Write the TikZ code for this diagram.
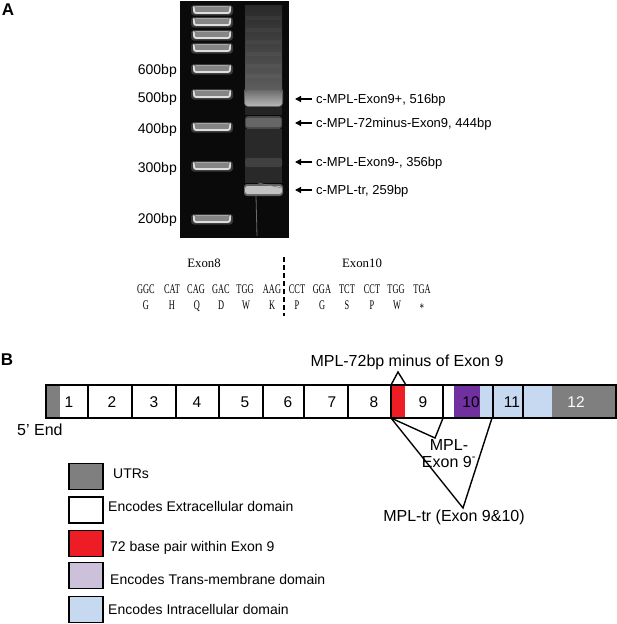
\documentclass[tikz,border=0pt]{standalone}
\usepackage{fontspec}
\setmainfont{Liberation Sans}
\newfontfamily\seqf[FakeStretch=0.63]{Liberation Serif}
\newfontfamily\seqlab{Liberation Serif}
\usetikzlibrary{arrows.meta}
\definecolor{utrgrey}{HTML}{7F7F7F}
\definecolor{redbp}{HTML}{EE1C25}
\definecolor{tmpurple}{HTML}{7030A0}
\definecolor{icblue}{HTML}{C6D9F0}
\definecolor{tmlav}{HTML}{CCC0DA}
\definecolor{ladcore}{HTML}{858585}
\definecolor{ladrim}{HTML}{DEDEDE}
\begin{document}
\begin{tikzpicture}[x=1pt,y=-1pt,
  every node/.style={inner sep=0pt, text depth=0pt},
  panel/.style={font=\bfseries\fontsize{17}{17}\selectfont},
  ladlab/.style={font=\fontsize{14}{14}\selectfont, anchor=east},
  bandlab/.style={font=\fontsize{13}{13}\selectfont, anchor=west, outer sep=4pt},
  bandarrow/.style={-{Triangle[length=6pt,width=6pt]}, line width=1.3pt},
  codon/.style={font=\seqf\fontsize{13.2}{14}\selectfont},
  exlab/.style={font=\seqlab\fontsize{12.8}{13}\selectfont},
  exnum/.style={font=\fontsize{15.5}{16}\selectfont},
  annot/.style={font=\fontsize{16}{17}\selectfont},
  legtxt/.style={font=\fontsize{14}{14}\selectfont, anchor=west},
  legbox/.style={draw=black, line width=1.8pt, minimum width=34pt, minimum height=26pt},
  conn/.style={line width=1.4pt},
  sepline/.style={line width=1.4pt}
]
\useasboundingbox (0,0) rectangle (617,624);

% ---------- Panel A ----------
\node[panel] (lblA) at (8,10) {A};

% gel
\fill[black!96] (180,1) rectangle (289,238);
\foreach \yy in {10,22,35,48,69,94,127,166,219} {
  \fill[black!78, rounded corners=3pt] (191,\yy-5) rectangle (233,\yy+5.5);
  \fill[ladcore, rounded corners=2.5pt] (193,\yy-4) rectangle (231,\yy+4);
  \draw[ladrim, line width=1.7pt, line cap=round] (193.8,\yy-3) .. controls (194,\yy+3) .. (199,\yy+3) -- (225,\yy+3) .. controls (230,\yy+3) .. (230.2,\yy-3);
  \draw[black!35, line width=0.7pt, line cap=round] (196,\yy-3.3) -- (228,\yy-3.3);
}
% sample lane
\shade[top color=black!84, bottom color=black!64] (245,5) rectangle (282,88);
\foreach \yy in {18,30,42,54,66,76} {
  \fill[white, opacity=0.035] (246,\yy-2) rectangle (281,\yy+2);
}
\fill[black!64, rounded corners=4pt] (244,87) rectangle (283,107);
\shade[top color=black!58, bottom color=black!28, rounded corners=3pt] (245,90) rectangle (282,106);
\fill[black!86] (245,107) rectangle (282,115);
\fill[black!72, rounded corners=3pt] (245,116) rectangle (282,129);
\fill[black!60, rounded corners=2pt] (246,118) rectangle (281,127);
\fill[black!84] (245,129) rectangle (282,183);
\fill[black!75, rounded corners=2pt] (245,158) rectangle (282,167);
\fill[black!62, rounded corners=3pt] (244,184) rectangle (283,196);
\fill[black!24, rounded corners=2.5pt] (245,186) rectangle (282,194);
\draw[black!50, line width=0.6pt] (258,183) -- (282,188);
\draw[black!58, line width=0.8pt] (256,196) -- (257,236);

% ladder labels
\node[ladlab] (l600) at (177,69) {600bp};
\node[ladlab] (l500) at (177,97) {500bp};
\node[ladlab] (l400) at (177,128) {400bp};
\node[ladlab] (l300) at (177,167) {300bp};
\node[ladlab] (l200) at (177,218) {200bp};

% band labels and arrows
\node[bandlab] (b516) at (312,99) {c-MPL-Exon9+, 516bp};
\node[bandlab] (b444) at (312,123) {c-MPL-72minus-Exon9, 444bp};
\node[bandlab] (b356) at (312,162) {c-MPL-Exon9-, 356bp};
\node[bandlab] (b259) at (312,190) {c-MPL-tr, 259bp};
\coordinate (t516) at (295,99);
\coordinate (t444) at (295,123);
\coordinate (t356) at (295,162);
\coordinate (t259) at (295,190);
\draw[bandarrow] (b516) -- (t516);
\draw[bandarrow] (b444) -- (t444);
\draw[bandarrow] (b356) -- (t356);
\draw[bandarrow] (b259) -- (t259);

% sequence
\node[exlab] (ex8) at (204,263) {Exon8};
\node[exlab] (ex10) at (362,263) {Exon10};
\coordinate (dtop) at (284,257);
\coordinate (dbot) at (284,316);
\draw[line width=1.3pt, dash pattern=on 5pt off 3pt] (dtop) -- (dbot);
\foreach \xx/\cd [count=\i] in {146/GGC,172/CAT,196/CAG,221/GAC,245/TGG,272/AAG,297/CCT,322/GGA,347/TCT,372/CCT,396/TGG,422/TGA} {
  \node[codon] (cd\i) at (\xx,289) {\cd};
}
\foreach \xx/\aa [count=\i] in {146/G,172/H,197/Q,221/D,246/W,272/K,297/P,322/G,347/S,372/P,397/W} {
  \node[codon] (aa\i) at (\xx,305) {\aa};
}
\node[codon] (aa12) at (422,308.5) {*};

% ---------- Panel B ----------
\node[panel] (lblB) at (7,360) {B};

\fill[utrgrey] (46,385) rectangle (60,418);
\fill[redbp] (391,385) rectangle (405,418);
\fill[tmpurple] (454,385) rectangle (480,418);
\fill[icblue] (480,385) rectangle (552,418);
\fill[utrgrey] (552,385) rectangle (616,418);
\foreach \xx in {88,132,176,219,263,304,348,391,443,493,523} {
  \draw[sepline] (\xx,385) -- (\xx,418);
}
\draw[line width=2pt] (46,385) rectangle (616,418);

\foreach \xx/\n in {69/1,112/2,154/3,197/4,245/5,288/6,332/7,374/8,423/9,471/10,512/11} {
  \node[exnum] (e\n) at (\xx,402) {\n};
}
\node[exnum, text=white] (e12) at (576,402) {12};

\node[anchor=west, font=\fontsize{16}{16}\selectfont] (fiveend) at (17,430) {5’ End};

% annotations
\node[annot] (a72) at (407,361) {MPL-72bp minus of Exon 9};
\coordinate (redL) at (391,385);
\coordinate (redR) at (406,385);
\coordinate (caret) at (398,372);
\draw[conn] (redL) -- (caret) -- (redR);

\coordinate (r9) at (391,418);
\coordinate (e9end) at (443,418);
\coordinate (e10end) at (492,418);
\coordinate (apx1) at (435,438);
\coordinate (apx2) at (463,508);
\draw[conn] (r9) -- (apx1) -- (e9end);
\draw[conn] (r9) -- (apx2) -- (e10end);
\node[annot, align=center] (ex9m) at (449,453) {MPL-\\Exon 9\textsuperscript{-}};
\node[annot] (mpltr) at (454,516) {MPL-tr (Exon 9\&10)};

% legend
\node[legbox, fill=utrgrey] (k1) at (86,476.5) {};
\node[legbox, fill=white] (k2) at (86,510) {};
\node[legbox, fill=redbp] (k3) at (86,543.5) {};
\node[legbox, fill=tmlav] (k4) at (86,575.5) {};
\node[legbox, fill=icblue] (k5) at (86,609.5) {};
\node[legtxt] (k1t) at (113,474) {UTRs};
\node[legtxt] (k2t) at (108,506) {Encodes Extracellular domain};
\node[legtxt] (k3t) at (110,546) {72 base pair within Exon 9};
\node[legtxt] (k4t) at (110,579) {Encodes Trans-membrane domain};
\node[legtxt] (k5t) at (108,609) {Encodes Intracellular domain};
\end{tikzpicture}
\end{document}
